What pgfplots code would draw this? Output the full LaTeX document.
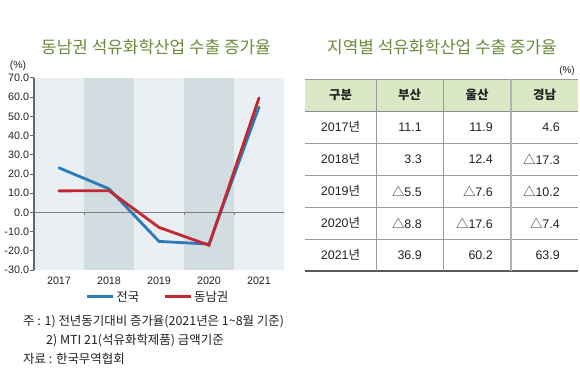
\documentclass[border=0pt]{standalone}
\usepackage{fontspec}
\setmainfont{Liberation Sans}
\newfontfamily\kr{Noto Sans CJK KR}
\usepackage{pgfplots}
\pgfplotsset{compat=1.18}
\definecolor{bandlight}{RGB}{233,239,242}
\definecolor{banddark}{RGB}{210,221,225}
\definecolor{lblue}{RGB}{43,123,186}
\definecolor{lred}{RGB}{194,40,50}
\definecolor{titlegreen}{RGB}{111,138,60}
\definecolor{headgreen}{RGB}{219,232,198}
\definecolor{txt}{RGB}{35,35,35}
\begin{document}
\begin{tikzpicture}[x=1bp,y=1bp]
\path[use as bounding box, fill=white] (0,0) rectangle (580,390);
% titles
\node[font=\kr\fontsize{17}{20}\selectfont, text=titlegreen] at (156,343) {동남권 석유화학산업 수출 증가율};
\node[font=\kr\fontsize{17}{20}\selectfont, text=titlegreen] at (442,343) {지역별 석유화학산업 수출 증가율};
\node[font=\fontsize{10.5}{12}\selectfont, text=txt] at (18,324) {(\%)};
\begin{axis}[
  at={(34bp,120bp)}, anchor=south west,
  scale only axis, width=250bp, height=192bp,
  xmin=2016.5, xmax=2021.5, ymin=-30, ymax=70,
  axis background/.style={fill=bandlight},
  axis x line*=bottom, axis y line*=left,
  x axis line style={draw=none},
  y axis line style={draw=black!60, line width=1.1bp},
  xtick={2017,2018,2019,2020,2021},
  xticklabels={2017,2018,2019,2020,2021},
  xtick style={draw=none},
  ytick={-30,-20,-10,0,10,20,30,40,50,60,70},
  ytick style={draw=black!60, line width=1bp},
  tick align=outside, major tick length=4bp,
  yticklabel style={/pgf/number format/.cd, fixed, fixed zerofill, precision=1, assume math mode=true, /tikz/.cd, font=\fontsize{10.8}{12}\selectfont, text=txt, xshift=2.5bp},
  xticklabel style={font=\fontsize{10.8}{12}\selectfont, text=txt, yshift=1bp},
  legend style={at={(0.496,-0.14)}, anchor=center, draw=none, fill=none,
    legend columns=2, font=\kr\fontsize{12.5}{14}\selectfont, text=txt,
    /tikz/every even column/.append style={column sep=22bp}},
  legend image code/.code={\draw[#1, line cap=butt] (0bp,0bp) -- (26bp,0bp);},
]
\fill[banddark] (axis cs:2017.5,-30) rectangle (axis cs:2018.5,70);
\fill[banddark] (axis cs:2019.5,-30) rectangle (axis cs:2020.5,70);
\draw[black!50, line width=1bp] (axis cs:2016.5,0) -- (axis cs:2021.5,0);
\draw[black!50, line width=0.8bp] (axis cs:2017.5,0) -- ++(0bp,-3bp);
\draw[black!50, line width=0.8bp] (axis cs:2018.5,0) -- ++(0bp,-3bp);
\draw[black!50, line width=0.8bp] (axis cs:2019.5,0) -- ++(0bp,-3bp);
\draw[black!50, line width=0.8bp] (axis cs:2020.5,0) -- ++(0bp,-3bp);
\draw[black!50, line width=0.8bp] (axis cs:2021.5,0) -- ++(0bp,-3bp);
\addplot[color=lblue, line width=2.8bp, line cap=round] coordinates {
  (2017,23.2) (2018,12.3) (2019,-15.1) (2020,-16.5) (2021,54.9)};
\addlegendentry{전국}
\addplot[color=lred, line width=2.8bp, line cap=round] coordinates {
  (2017,11.2) (2018,11.3) (2019,-7.8) (2020,-17.1) (2021,59.6)};
\addlegendentry{동남권}
\end{axis}
% footnotes
\begin{scope}[every node/.style={anchor=west, font=\kr\fontsize{12.5}{14}\selectfont, text=txt, inner sep=0pt}]
\node at (23,68) {주 : 1) 전년동기대비 증가율(2021년은 1\textasciitilde 8월 기준)};
\node at (46,49) {2) MTI 21(석유화학제품) 금액기준};
\node at (23,31) {자료 : 한국무역협회};
\end{scope}
% table
\node[font=\fontsize{10}{12}\selectfont, text=txt] at (567,319) {(\%)};
\fill[headgreen] (305,279) rectangle (578,311);
\draw[black!40, line width=0.8bp] (305,311) -- (578,311);
\draw[black!45, line width=0.8bp] (305,279) -- (578,279);
\foreach \yy in {247,215,183,151}{
  \draw[black!40, line width=0.8bp] (305,\yy) -- (578,\yy);
}
\draw[black!65, line width=1.6bp] (305,119) -- (578,119);
\draw[black!40, line width=0.8bp] (376,119) -- (376,311);
\draw[black!40, line width=0.8bp] (443,119) -- (443,311);
\draw[black!30, line width=1.8bp] (511,119) -- (511,311);
\begin{scope}[every node/.style={font=\kr\bfseries\fontsize{12.5}{14}\selectfont, text=txt}]
\node at (340.5,295) {구분};
\node at (409.5,295) {부산};
\node at (477,295) {울산};
\node at (544.5,295) {경남};
\end{scope}
\begin{scope}[every node/.style={font=\fontsize{12.5}{14}\selectfont, text=txt}]
\node at (340.5,263) {2017{\kr 년}};
\node at (340.5,231) {2018{\kr 년}};
\node at (340.5,199) {2019{\kr 년}};
\node at (340.5,167) {2020{\kr 년}};
\node at (340.5,135) {2021{\kr 년}};
\end{scope}
\begin{scope}[every node/.style={anchor=east, font=\fontsize{12.5}{14}\selectfont, text=txt, inner sep=0pt}]
\node at (422,263) {11.1};
\node at (422,231) {3.3};
\node at (422,199) {{\kr △}5.5};
\node at (422,167) {{\kr △}8.8};
\node at (422,135) {36.9};
\node at (493,263) {11.9};
\node at (493,231) {12.4};
\node at (493,199) {{\kr △}7.6};
\node at (493,167) {{\kr △}17.6};
\node at (493,135) {60.2};
\node at (560,263) {4.6};
\node at (560,231) {{\kr △}17.3};
\node at (560,199) {{\kr △}10.2};
\node at (560,167) {{\kr △}7.4};
\node at (560,135) {63.9};
\end{scope}
\end{tikzpicture}
\end{document}
